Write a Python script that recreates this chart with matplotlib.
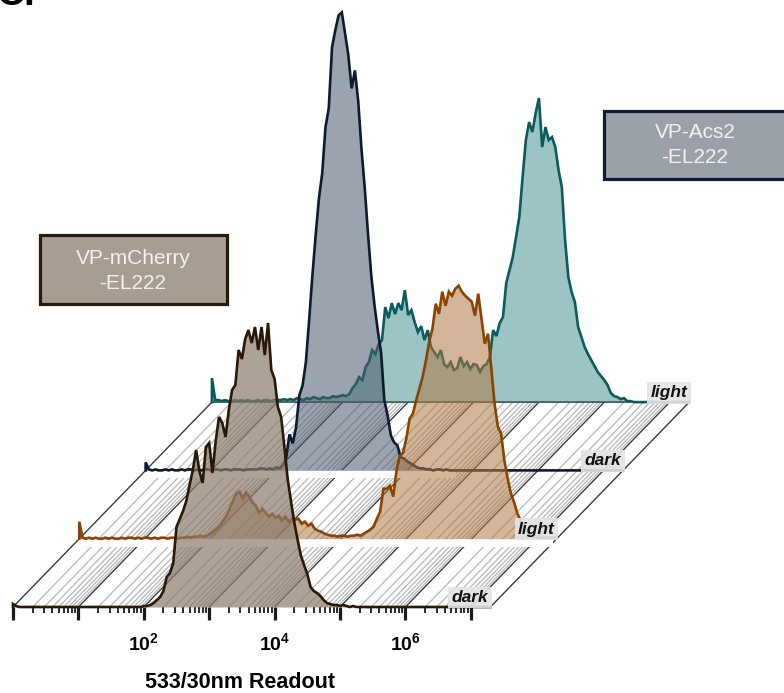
import numpy as np
import matplotlib.pyplot as plt
from matplotlib.patches import Rectangle
from matplotlib.collections import LineCollection

plt.rcParams['font.family'] = ['Liberation Sans', 'DejaVu Sans']
plt.rcParams['mathtext.fontset'] = 'custom'
plt.rcParams['mathtext.rm'] = 'Liberation Sans'
plt.rcParams['mathtext.bf'] = 'Liberation Sans:bold'

# histogram counts (arbitrary units), one value per 0.05 decade starting at 10^0
bin_w = 0.05
n_decades = 7.3

mcherry_dark = [3, 1, 0, 0, 0, 0, 0, 0, 0, 0, 0, 0, 0, 0, 0, 0, 0, 0, 0, 0,
                0, 0, 0, 0, 0, 0, 0, 0, 0, 0, 0, 0, 0, 0, 0, 0, 0, 0, 0, 0,
                1, 1, 2, 4, 7, 10, 16, 30, 34, 44, 80, 88, 96, 106, 122,
                137, 157, 136, 124, 160, 164, 134, 166, 190, 184, 170, 197,
                217, 222, 257, 248, 268, 277, 264, 280, 257, 280, 252, 284,
                237, 228, 200, 190, 160, 128, 106, 85, 68, 52, 42, 33, 20,
                16, 14, 11, 7, 4, 3, 2, 2, 1, 2, 1, 0, 1, 0, 0]

mcherry_light = [17, 1, 0, 1, 0, 1, 0, 0, 1, 0, 1, 0, 0, 1, 0, 1, 1, 0, 1, 0,
                 1, 1, 0, 1, 0, 1, 1, 0, 1, 1, 0,
                 1, 1, 2, 1, 2, 2, 3, 2, 3, 5, 7, 10, 13, 18, 23, 30, 38, 45,
                 47, 40, 46, 42, 36, 33, 26, 30, 26, 22, 25, 21, 23, 18, 22,
                 17, 20, 19, 20, 15, 17, 13, 15, 10, 8, 7, 5, 4, 3, 3, 2, 3,
                 3, 2, 3, 3, 4, 3, 5, 7,
                 9, 12, 20, 27, 50, 50, 53, 42, 68, 83, 86, 100, 120, 125, 138,
                 150, 162, 178, 197, 210, 235, 225, 247, 233, 247, 243, 250,
                 253, 247, 243, 240, 237, 223, 245, 220, 195, 205, 170, 135,
                 112, 105, 78, 60, 45, 36, 25, 18, 12, 7, 3, 2, 2, 1, 1, 1, 1, 1]

acs2_dark = [8, 1, 0, 1, 0, 0, 1, 0, 1, 0, 0, 1, 0, 1, 1, 0, 1, 0, 1, 1,
             0, 1, 1, 0, 1, 1, 0, 1, 1, 1, 0, 1, 1, 1, 1, 2,
             2, 1, 2, 1, 3, 2, 5, 13, 36, 27, 43, 75, 85, 108, 150, 195, 235,
             272, 297, 343, 362, 423, 440, 455, 458, 437, 415, 382, 400, 370,
             322, 283, 237, 195, 165, 140, 118, 70, 55, 35, 28, 25, 13, 12, 9,
             7, 5, 3, 2, 2, 1,
             1, 0, 1, 1, 0, 1, 0, 0, 0]

acs2_light = [24, 2, 2, 1, 2, 1, 1, 2, 1, 2, 1, 2, 1, 1, 2, 1, 2, 2, 1, 2, 2,
              2, 3, 2, 3, 2, 4, 3, 2, 4, 3, 5, 4, 3, 5, 4, 4, 6, 5, 6, 7, 6,
              8, 14, 18, 25, 22, 35, 40, 52, 48, 58, 62, 95, 84, 99, 88, 99,
              92, 112, 87, 92, 80, 70, 76, 62, 72, 55, 50, 45, 52, 38, 35, 40,
              32, 34, 45, 36, 40, 33, 38, 37, 30, 36, 38, 45,
              72, 66, 79, 85, 119, 132, 145, 165, 185, 225, 262, 280, 270, 289,
              304, 255, 275, 262, 265, 255, 232, 215, 162, 125, 110, 100, 75,
              65, 55, 48, 42, 36, 30, 26, 22, 17, 9, 6, 5, 3, 4, 1, 1, 0]

# front (bottom) layer first
series = [mcherry_dark, mcherry_light, acs2_dark, acs2_light]
layer_labels = ['dark', 'light', 'dark', 'light']
line_colors = ['#2a1705', '#8a4300', '#0b1b30', '#0a5b5a']
fill_colors = ['#8b7b6b', '#b07a45', '#4a5a6c', '#3d8a8a']
fill_alpha = [0.7, 0.55, 0.55, 0.5]

# offset between stacked layers: x in decades, y in count units
step_x = 1.014
step_y = 68.3

fig = plt.figure(figsize=(7.84, 6.93), dpi=100)
ax = fig.add_axes([13 / 784, 86 / 693, 477.4 / 784, 607 / 693])
ax.set_xlim(0, n_decades)
ax.set_ylim(0, 607)
for s in ax.spines.values():
    s.set_visible(False)
ax.set_yticks([])

# oblique grid through the stack
n_back = len(series) - 1
major, minor = [], []
for d in range(8):
    for k in range(1, 10):
        u = d + np.log10(k)
        if u > n_decades - 0.02:
            continue
        seg = [(u, 0), (u + n_back * step_x, n_back * step_y)]
        (major if k == 1 else minor).append(seg)
major.append([(n_decades, 0), (n_decades + n_back * step_x, n_back * step_y)])
ax.add_collection(LineCollection(minor, colors='#b8b8b8', linewidths=0.9, zorder=1, clip_on=False))
ax.add_collection(LineCollection(major, colors='#3a3a3a', linewidths=1.0, zorder=1.1, clip_on=False))
ax.plot([n_back * step_x, n_back * step_x + n_decades], [n_back * step_y] * 2,
        color='#444444', lw=1.3, zorder=1.1, clip_on=False)

# histograms, back to front
for i in reversed(range(len(series))):
    vals = np.array(series[i], dtype=float)
    u = np.arange(len(vals)) * bin_w
    x = np.concatenate([[0], u, [n_decades]]) + i * step_x
    y = np.concatenate([[0], vals, [vals[-1]]]) + i * step_y
    oy = i * step_y
    z = 2 + (len(series) - i)
    if i in (1, 2):
        ax.fill_between([i * step_x, u[-1] + i * step_x], oy - 8, oy,
                        color='white', lw=0, zorder=1.5, clip_on=False)
    ax.fill_between(x, oy, y, color=fill_colors[i], alpha=fill_alpha[i],
                    lw=0, zorder=z, clip_on=False)
    ax.plot(x, y, color=line_colors[i], lw=1.9, zorder=z + 0.1,
            solid_joinstyle='miter', clip_on=False)
    ax.text(i * step_x + n_decades - 0.03, oy + 5, layer_labels[i],
            ha='right', va='baseline', fontsize=12.5, weight='bold', style='italic',
            color='#111111', zorder=9,
            bbox=dict(boxstyle='square,pad=0.2', fc='#e4e4e4', ec='none', alpha=0.9))

# log axis at the front
major_ticks = list(range(8))
minor_ticks = [d + np.log10(k) for d in range(8) for k in range(2, 10) if d + np.log10(k) < n_decades - 0.02]
tick_labels = ['', '', r'$\mathbf{10^{2}}$', '', r'$\mathbf{10^{4}}$', '', r'$\mathbf{10^{6}}$', '']
ax.set_xticks(major_ticks)
ax.set_xticklabels(tick_labels, fontsize=14)
ax.set_xticks(minor_ticks, minor=True)
ax.tick_params(axis='x', which='major', length=9.5, width=2.3, color='#1a1a1a', pad=9)
ax.tick_params(axis='x', which='minor', length=4.5, width=1.3, color='#1a1a1a')
ax.set_xlabel('533/30nm Readout', fontsize=15.5, weight='bold')
ax.xaxis.set_label_coords(227 / 477.4, -0.107)

# legend boxes
def label_box(x0, y0, w, h, fc, ec, text, cx, cy):
    fig.add_artist(Rectangle((x0 / 784, 1 - (y0 + h) / 693), w / 784, h / 693,
                             transform=fig.transFigure, fc=fc, ec=ec, lw=2.3, zorder=10))
    fig.text(cx / 784, 1 - cy / 693, text, ha='center', va='center', fontsize=15,
             color='#f4f1ee', linespacing=1.45, zorder=11)

label_box(40, 235, 187, 69, '#a89d93', '#2b1a0a', 'VP-mCherry\n-EL222', 133, 271)
label_box(604, 111, 200, 68, '#9aa1a9', '#0d1f33', 'VP-Acs2\n-EL222', 695, 145)

fig.text(-0.004, 1 - 5 / 693, 'C.', fontsize=28, weight='bold', va='baseline')

fig.savefig('out.png', dpi=100)
